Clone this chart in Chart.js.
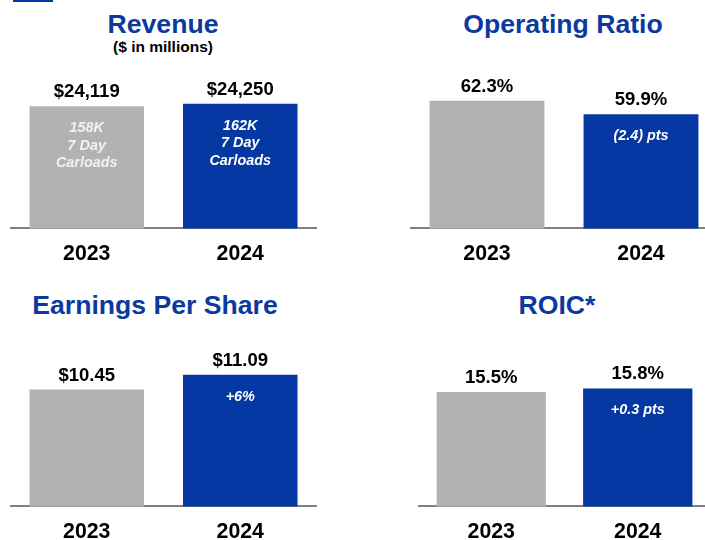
<!DOCTYPE html>
<html>
<head>
<meta charset="utf-8">
<script src="https://cdn.jsdelivr.net/npm/chart.js@4"></script>
<style>
  html, body { margin: 0; padding: 0; background: #fff; }
  body { width: 705px; height: 540px; position: relative; overflow: hidden; font-family: 'Liberation Sans', Arial, sans-serif; }
  .title { position: absolute; transform: translate(-50%, -50%); white-space: nowrap; color: #0a3a9e; font-weight: bold; font-size: 26.6px; }
  .sub { position: absolute; transform: translate(-50%, -50%); white-space: nowrap; color: #000; font-weight: bold; font-size: 15.5px; }
  canvas { position: absolute; }
  .mark { position: absolute; left: 13px; top: 0; width: 40px; height: 2px; background: #0638a4; }
</style>
</head>
<body>
<div class="mark"></div>
<div class="title" style="left:163px; top:24px;">Revenue</div>
<div class="sub" style="left:163px; top:47px;">($ in millions)</div>
<div class="title" style="left:563px; top:24px;">Operating Ratio</div>
<div class="title" style="left:155px; top:305px;">Earnings Per Share</div>
<div class="title" style="left:557px; top:305px;">ROIC*</div>

<canvas id="revenue" width="307" height="223" style="left:10px; top:57px;"></canvas>
<canvas id="opRatio" width="308" height="223" style="left:410px; top:57px;"></canvas>
<canvas id="eps" width="307" height="223" style="left:10px; top:335px;"></canvas>
<canvas id="roic" width="293" height="223" style="left:418px; top:335px;"></canvas>

<script>
const years = ['2023', '2024'];

const revenue = [24119, 24250];
const revenueLabels = ['$24,119', '$24,250'];
const revenueNotes = [['158K', '7 Day', 'Carloads'], ['162K', '7 Day', 'Carloads']];

const opRatio = [62.3, 59.9];
const opRatioLabels = ['62.3%', '59.9%'];
const opRatioNotes = [[], ['(2.4) pts']];

const eps = [10.45, 11.09];
const epsLabels = ['$10.45', '$11.09'];
const epsNotes = [[], ['+6%']];

const roic = [15.5, 15.8];
const roicLabels = ['15.5%', '15.8%'];
const roicNotes = [[], ['+0.3 pts']];

const GRAY = '#b2b2b2';
const BLUE = '#0638a4';
const FONT = "'Liberation Sans', Arial, sans-serif";

// value above each bar + italic note inside it
const barText = {
  id: 'barText',
  afterDatasetsDraw(chart, args, opts) {
    const ctx = chart.ctx;
    const bars = chart.getDatasetMeta(0).data;
    ctx.save();
    ctx.textAlign = 'center';
    bars.forEach((bar, i) => {
      ctx.fillStyle = '#000';
      ctx.font = 'bold 18.5px ' + FONT;
      ctx.textBaseline = 'alphabetic';
      ctx.fillText(opts.labels[i], bar.x, bar.y - 9);

      ctx.fillStyle = i === 0 ? '#f2f2f2' : '#ffffff';
      ctx.font = 'italic bold 14.4px ' + FONT;
      ctx.textBaseline = 'middle';
      opts.notes[i].forEach((line, j) => {
        ctx.fillText(line, bar.x, bar.y + 22 + j * 17.5);
      });
    });
    ctx.restore();
  }
};

function makeChart(id, values, labels, notes, yMin, yMax) {
  return new Chart(id, {
    type: 'bar',
    data: {
      labels: years,
      datasets: [{
        data: values,
        backgroundColor: [GRAY, BLUE],
        barPercentage: 0.746,
        categoryPercentage: 1
      }]
    },
    options: {
      responsive: false,
      animation: false,
      layout: { padding: 0 },
      scales: {
        x: {
          grid: { display: false, drawTicks: false },
          border: { display: true, color: '#808080', width: 2 },
          ticks: {
            color: '#000',
            padding: 13,
            font: { family: FONT, size: 21.3, weight: 'bold' }
          }
        },
        y: {
          display: false,
          min: yMin,
          max: yMax
        }
      },
      plugins: {
        legend: { display: false },
        tooltip: { enabled: false },
        barText: { labels: labels, notes: notes }
      }
    },
    plugins: [barText]
  });
}

makeChart('revenue', revenue, revenueLabels, revenueNotes, 17200, 26900);
makeChart('opRatio', opRatio, opRatioLabels, opRatioNotes, 39.5, 70.1);
makeChart('eps', eps, epsLabels, epsNotes, 5.37, 12.82);
makeChart('roic', roic, roicLabels, roicNotes, 5.48, 20.48);
</script>
</body>
</html>
